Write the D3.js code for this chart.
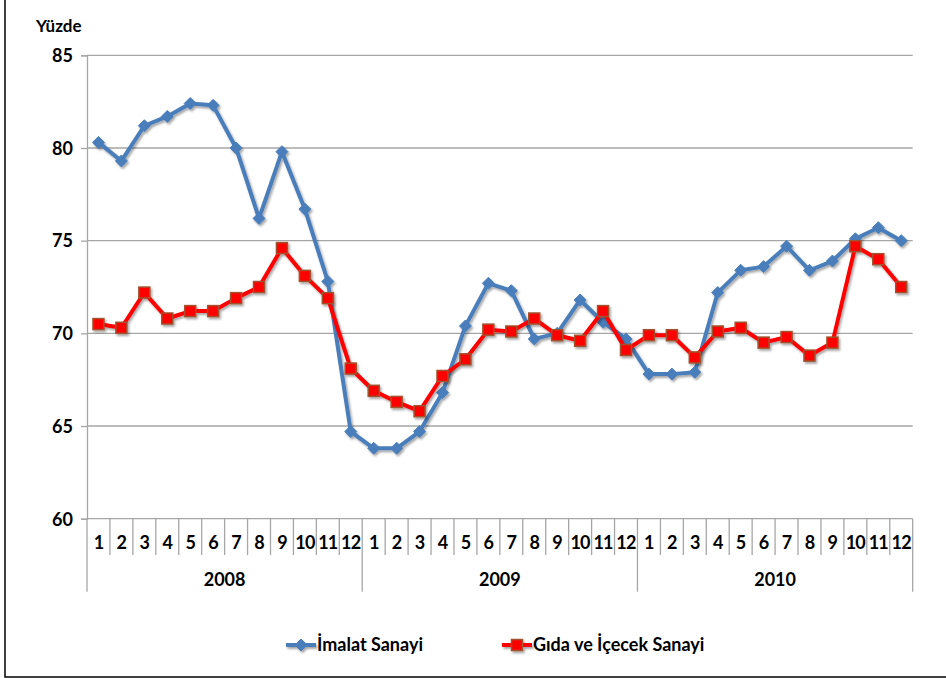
<!DOCTYPE html>
<html><head><meta charset="utf-8">
<script src="https://cdn.jsdelivr.net/npm/d3@7"></script>
<style>
html,body{margin:0;padding:0;background:#fff;}
text{font-family:Lato,"Open Sans",sans-serif;font-weight:bold;fill:#000;}
</style></head>
<body><svg id="c" width="946" height="678"></svg>
<script>
const years = ["2008","2009","2010"];
const months = ["1","2","3","4","5","6","7","8","9","10","11","12"];
const imalat = [80.3,79.3,81.2,81.7,82.4,82.3,80.0,76.2,79.8,76.7,72.8,64.7,
                63.8,63.8,64.7,66.8,70.4,72.7,72.3,69.7,70.0,71.8,70.6,69.7,
                67.8,67.8,67.9,72.2,73.4,73.6,74.7,73.4,73.9,75.1,75.7,75.0];
const gida = [70.5,70.3,72.2,70.8,71.2,71.2,71.9,72.5,74.6,73.1,71.9,68.1,
              66.9,66.3,65.8,67.7,68.6,70.2,70.1,70.8,69.9,69.6,71.2,69.1,
              69.9,69.9,68.7,70.1,70.3,69.5,69.8,68.8,69.5,74.7,74.0,72.5];
const yTicks = [60,65,70,75,80,85];
const seriesNames = ["İmalat Sanayi","Gıda ve İçecek Sanayi"];

const svg = d3.select("#c");
const defs = svg.append("defs");
const f = defs.append("filter").attr("id","sh").attr("x","-50%").attr("y","-50%").attr("width","200%").attr("height","200%");
f.append("feDropShadow").attr("dx",1.5).attr("dy",2).attr("stdDeviation",1.2).attr("flood-color","#000").attr("flood-opacity",0.35);

// outer border
svg.append("rect").attr("x",5).attr("y",-2).attr("width",960).attr("height",679)
  .attr("fill","none").attr("stroke","#000").attr("stroke-width",1.5);

const L=87, R=912.7, T=55.3, B=518.7;
const FS=18;
const cats = [];
years.forEach(y=>months.forEach(m=>cats.push(y+"-"+m)));
const x = d3.scaleBand().domain(cats).range([L,R]);
const y = d3.scaleLinear().domain([60,85]).range([B,T]);

// gridlines
svg.append("g").selectAll("line").data(yTicks.filter(v=>v>60)).join("line")
  .attr("x1",L).attr("x2",R).attr("y1",d=>y(d)).attr("y2",d=>y(d))
  .attr("stroke","#a6a6a6").attr("stroke-width",1.3);

// y axis
const yAxis = d3.axisLeft(y).tickValues(yTicks).tickSize(6).tickPadding(8).tickFormat(d3.format("d"));
const gy = svg.append("g").attr("transform",`translate(${L},0)`).call(yAxis);
gy.select(".domain").attr("stroke","#a6a6a6").attr("stroke-width",1.3);
gy.selectAll(".tick line").attr("stroke","#a6a6a6").attr("stroke-width",1.3);
gy.selectAll(".tick text").attr("font-size",FS).attr("font-family","Lato").attr("font-weight","bold").attr("dy","0.35em");

// x axis baseline
svg.append("line").attr("x1",L).attr("x2",R).attr("y1",B).attr("y2",B).attr("stroke","#a6a6a6").attr("stroke-width",1.3);
// month separators
const bounds = cats.map(c=>x(c)).concat([R]);
svg.append("g").selectAll("line").data(bounds).join("line")
  .attr("x1",d=>d).attr("x2",d=>d).attr("y1",B)
  .attr("y2",(d,i)=> (i%12===0) ? 591.7 : 555)
  .attr("stroke","#a6a6a6").attr("stroke-width",1.3);
// month labels
svg.append("g").selectAll("text").data(cats).join("text")
  .attr("x",d=>x(d)+x.bandwidth()/2).attr("y",543).attr("dy","0.35em")
  .attr("text-anchor","middle").attr("font-size",FS).attr("letter-spacing",-0.8)
  .text(d=>d.split("-")[1]);
// year labels
svg.append("g").selectAll("text").data(years).join("text")
  .attr("x",d=>(x(d+"-1")+x(d+"-12")+x.bandwidth())/2).attr("y",580).attr("dy","0.35em")
  .attr("text-anchor","middle").attr("font-size",FS).text(d=>d);

// Yüzde label
svg.append("text").attr("x",36).attr("y",26).attr("dy","0.35em").attr("font-size",17).text("Yüzde");

const line = d3.line().x((d,i)=>x(cats[i])+x.bandwidth()/2).y(d=>y(d));
const blue="#4a7ebb", red="#ff0000", brown="#a0522d";

function diamond(g,cx,cy){
  g.append("path").attr("d",`M${cx},${cy-6}L${cx+6},${cy}L${cx},${cy+6}L${cx-6},${cy}Z`).attr("fill",blue).attr("stroke",blue).attr("stroke-width",1);
}
function square(g,cx,cy){
  g.append("rect").attr("x",cx-5.5).attr("y",cy-5.5).attr("width",11).attr("height",11).attr("fill",red).attr("stroke",brown).attr("stroke-width",1.5);
}

const gb = svg.append("g").attr("filter","url(#sh)");
gb.append("path").datum(imalat).attr("d",line).attr("fill","none").attr("stroke",blue).attr("stroke-width",4).attr("stroke-linejoin","round");
imalat.forEach((v,i)=>diamond(gb,x(cats[i])+x.bandwidth()/2,y(v)));

const gr = svg.append("g").attr("filter","url(#sh)");
gr.append("path").datum(gida).attr("d",line).attr("fill","none").attr("stroke",red).attr("stroke-width",4).attr("stroke-linejoin","round");
gida.forEach((v,i)=>square(gr,x(cats[i])+x.bandwidth()/2,y(v)));

// legend
const ly=645;
const lg1 = svg.append("g").attr("filter","url(#sh)");
lg1.append("line").attr("x1",286).attr("x2",316).attr("y1",ly).attr("y2",ly).attr("stroke",blue).attr("stroke-width",4);
diamond(lg1,301,ly);
svg.append("text").attr("x",317).attr("y",ly).attr("dy","0.35em").attr("font-size",FS).text(seriesNames[0]);
const lg2 = svg.append("g").attr("filter","url(#sh)");
lg2.append("line").attr("x1",502).attr("x2",532).attr("y1",ly).attr("y2",ly).attr("stroke",red).attr("stroke-width",4);
square(lg2,517,ly);
svg.append("text").attr("x",533).attr("y",ly).attr("dy","0.35em").attr("font-size",FS).text(seriesNames[1]);
</script></body></html>
